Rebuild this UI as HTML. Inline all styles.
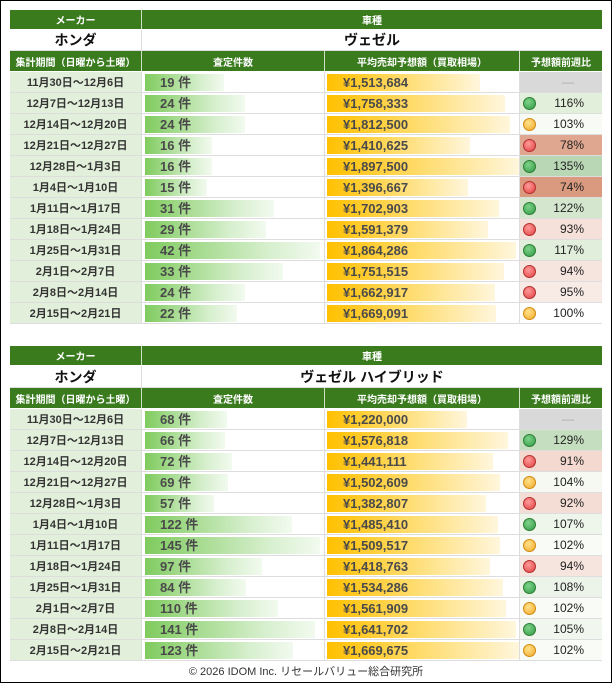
<!DOCTYPE html><html><head><meta charset="utf-8"><style>
*{margin:0;padding:0;box-sizing:border-box}
body{width:612px;height:683px;background:#fff;font-family:"Liberation Sans","Noto Sans CJK JP",sans-serif;position:relative;overflow:hidden}
.frame{position:absolute;left:0;top:0;width:612px;height:683px;border:1px solid #000}
.t{position:absolute;left:10px;width:592px}
.r{display:flex;height:21px;border-bottom:1px solid #ddd}
.r>div{height:100%;position:relative;display:flex;align-items:center;justify-content:center;font-size:11px;font-weight:bold;color:#333}
.c1{width:132px;background:#e2efda;border-right:1px solid #ddd}
.c2{width:183px;border-right:1px solid #ddd}
.c3{width:195px;border-right:1px solid #ddd}
.c4{width:82px}
.h{background:#3a7b1e;border-bottom:1px solid #fff}
.h>div{color:#fff;background:#3a7b1e;border-right:1px solid #cfe0c5;font-size:10px}
.n>div{background:#fff;font-size:14px;color:#111}
.n{height:21px}
.b1{position:absolute;left:3px;top:2px;height:17px;background:linear-gradient(90deg,#7fcb5e,#d6efcd 70%,#f2faef)}
.b2{position:absolute;left:2px;top:2px;height:17px;background:linear-gradient(90deg,#ffc000,#ffdf7a 55%,#fff6dc)}
.tx{position:absolute;left:18px;top:0;line-height:21px;font-size:13px;color:#4a4a4a;font-weight:bold}
.c4 .dot{position:absolute;left:3px;top:4px;width:13px;height:13px;border-radius:50%}
.g{background:radial-gradient(circle at 40% 35%,#7fd38a,#2f9a45);border:1px solid #2e7d32}
.o{background:radial-gradient(circle at 40% 35%,#ffe28a,#f3a82a);border:1px solid #d08a10}
.rd{background:radial-gradient(circle at 40% 35%,#ff9a9a,#e0403f);border:1px solid #b23030}
.c4 span{position:absolute;right:18px;font-weight:normal;font-size:12px;color:#222}
.foot{position:absolute;left:0;width:612px;top:663px;text-align:center;font-size:11px;color:#333}
</style></head><body><div class="frame"></div>

<div class="t" style="top:10px">
<div class="r h" style="height:20px"><div class="c1">メーカー</div><div class="c2" style="width:460px;border-right:none">車種</div></div>
<div class="r n"><div class="c1">ホンダ</div><div class="c2" style="width:460px;border-right:none">ヴェゼル</div></div>
<div class="r h"><div class="c1">集計期間（日曜から土曜）</div><div class="c2">査定件数</div><div class="c3">平均売却予想額（買取相場）</div><div class="c4" style="border-right:none">予想額前週比</div></div>
<div class="r"><div class="c1">11月30日～12月6日</div><div class="c2"><div class="b1" style="width:79px"></div><div class="tx">19 件</div></div><div class="c3"><div class="b2" style="width:153px"></div><div class="tx">¥1,513,684</div></div><div class="c4" style="background:#d9d9d9"><span style="color:#aaa;right:28px">—</span></div></div>
<div class="r"><div class="c1">12月7日～12月13日</div><div class="c2"><div class="b1" style="width:100px"></div><div class="tx">24 件</div></div><div class="c3"><div class="b2" style="width:178px"></div><div class="tx">¥1,758,333</div></div><div class="c4" style="background:#e2efda"><div class="dot g"></div><span>116%</span></div></div>
<div class="r"><div class="c1">12月14日～12月20日</div><div class="c2"><div class="b1" style="width:100px"></div><div class="tx">24 件</div></div><div class="c3"><div class="b2" style="width:183px"></div><div class="tx">¥1,812,500</div></div><div class="c4" style="background:#f7faf5"><div class="dot o"></div><span>103%</span></div></div>
<div class="r"><div class="c1">12月21日～12月27日</div><div class="c2"><div class="b1" style="width:67px"></div><div class="tx">16 件</div></div><div class="c3"><div class="b2" style="width:143px"></div><div class="tx">¥1,410,625</div></div><div class="c4" style="background:#dfa78f"><div class="dot rd"></div><span>78%</span></div></div>
<div class="r"><div class="c1">12月28日～1月3日</div><div class="c2"><div class="b1" style="width:67px"></div><div class="tx">16 件</div></div><div class="c3"><div class="b2" style="width:192px"></div><div class="tx">¥1,897,500</div></div><div class="c4" style="background:#b9d7b5"><div class="dot g"></div><span>135%</span></div></div>
<div class="r"><div class="c1">1月4日～1月10日</div><div class="c2"><div class="b1" style="width:62px"></div><div class="tx">15 件</div></div><div class="c3"><div class="b2" style="width:141px"></div><div class="tx">¥1,396,667</div></div><div class="c4" style="background:#d99a7f"><div class="dot rd"></div><span>74%</span></div></div>
<div class="r"><div class="c1">1月11日～1月17日</div><div class="c2"><div class="b1" style="width:129px"></div><div class="tx">31 件</div></div><div class="c3"><div class="b2" style="width:172px"></div><div class="tx">¥1,702,903</div></div><div class="c4" style="background:#d4e7ce"><div class="dot g"></div><span>122%</span></div></div>
<div class="r"><div class="c1">1月18日～1月24日</div><div class="c2"><div class="b1" style="width:121px"></div><div class="tx">29 件</div></div><div class="c3"><div class="b2" style="width:161px"></div><div class="tx">¥1,591,379</div></div><div class="c4" style="background:#f5e1d9"><div class="dot rd"></div><span>93%</span></div></div>
<div class="r"><div class="c1">1月25日～1月31日</div><div class="c2"><div class="b1" style="width:175px"></div><div class="tx">42 件</div></div><div class="c3"><div class="b2" style="width:189px"></div><div class="tx">¥1,864,286</div></div><div class="c4" style="background:#e1eedb"><div class="dot g"></div><span>117%</span></div></div>
<div class="r"><div class="c1">2月1日～2月7日</div><div class="c2"><div class="b1" style="width:138px"></div><div class="tx">33 件</div></div><div class="c3"><div class="b2" style="width:177px"></div><div class="tx">¥1,751,515</div></div><div class="c4" style="background:#f6e5de"><div class="dot rd"></div><span>94%</span></div></div>
<div class="r"><div class="c1">2月8日～2月14日</div><div class="c2"><div class="b1" style="width:100px"></div><div class="tx">24 件</div></div><div class="c3"><div class="b2" style="width:168px"></div><div class="tx">¥1,662,917</div></div><div class="c4" style="background:#f8ebe5"><div class="dot rd"></div><span>95%</span></div></div>
<div class="r"><div class="c1">2月15日～2月21日</div><div class="c2"><div class="b1" style="width:92px"></div><div class="tx">22 件</div></div><div class="c3"><div class="b2" style="width:169px"></div><div class="tx">¥1,669,091</div></div><div class="c4" style="background:#fff"><div class="dot o"></div><span>100%</span></div></div>
</div>

<div class="t" style="top:346px">
<div class="r h" style="height:20px"><div class="c1">メーカー</div><div class="c2" style="width:460px;border-right:none">車種</div></div>
<div class="r n" style="height:22px"><div class="c1">ホンダ</div><div class="c2" style="width:460px;border-right:none">ヴェゼル ハイブリッド</div></div>
<div class="r h"><div class="c1">集計期間（日曜から土曜）</div><div class="c2">査定件数</div><div class="c3">平均売却予想額（買取相場）</div><div class="c4" style="border-right:none">予想額前週比</div></div>
<div class="r"><div class="c1">11月30日～12月6日</div><div class="c2"><div class="b1" style="width:82px"></div><div class="tx">68 件</div></div><div class="c3"><div class="b2" style="width:140px"></div><div class="tx">¥1,220,000</div></div><div class="c4" style="background:#d9d9d9"><span style="color:#aaa;right:28px">—</span></div></div>
<div class="r"><div class="c1">12月7日～12月13日</div><div class="c2"><div class="b1" style="width:80px"></div><div class="tx">66 件</div></div><div class="c3"><div class="b2" style="width:181px"></div><div class="tx">¥1,576,818</div></div><div class="c4" style="background:#c5debf"><div class="dot g"></div><span>129%</span></div></div>
<div class="r"><div class="c1">12月14日～12月20日</div><div class="c2"><div class="b1" style="width:87px"></div><div class="tx">72 件</div></div><div class="c3"><div class="b2" style="width:166px"></div><div class="tx">¥1,441,111</div></div><div class="c4" style="background:#f3d9cf"><div class="dot rd"></div><span>91%</span></div></div>
<div class="r"><div class="c1">12月21日～12月27日</div><div class="c2"><div class="b1" style="width:83px"></div><div class="tx">69 件</div></div><div class="c3"><div class="b2" style="width:173px"></div><div class="tx">¥1,502,609</div></div><div class="c4" style="background:#f5f9f2"><div class="dot o"></div><span>104%</span></div></div>
<div class="r"><div class="c1">12月28日～1月3日</div><div class="c2"><div class="b1" style="width:69px"></div><div class="tx">57 件</div></div><div class="c3"><div class="b2" style="width:159px"></div><div class="tx">¥1,382,807</div></div><div class="c4" style="background:#f4ddd4"><div class="dot rd"></div><span>92%</span></div></div>
<div class="r"><div class="c1">1月4日～1月10日</div><div class="c2"><div class="b1" style="width:147px"></div><div class="tx">122 件</div></div><div class="c3"><div class="b2" style="width:171px"></div><div class="tx">¥1,485,410</div></div><div class="c4" style="background:#eef5eb"><div class="dot g"></div><span>107%</span></div></div>
<div class="r"><div class="c1">1月11日～1月17日</div><div class="c2"><div class="b1" style="width:175px"></div><div class="tx">145 件</div></div><div class="c3"><div class="b2" style="width:173px"></div><div class="tx">¥1,509,517</div></div><div class="c4" style="background:#f9fbf7"><div class="dot o"></div><span>102%</span></div></div>
<div class="r"><div class="c1">1月18日～1月24日</div><div class="c2"><div class="b1" style="width:117px"></div><div class="tx">97 件</div></div><div class="c3"><div class="b2" style="width:163px"></div><div class="tx">¥1,418,763</div></div><div class="c4" style="background:#f6e5de"><div class="dot rd"></div><span>94%</span></div></div>
<div class="r"><div class="c1">1月25日～1月31日</div><div class="c2"><div class="b1" style="width:101px"></div><div class="tx">84 件</div></div><div class="c3"><div class="b2" style="width:176px"></div><div class="tx">¥1,534,286</div></div><div class="c4" style="background:#ecf4e9"><div class="dot g"></div><span>108%</span></div></div>
<div class="r"><div class="c1">2月1日～2月7日</div><div class="c2"><div class="b1" style="width:133px"></div><div class="tx">110 件</div></div><div class="c3"><div class="b2" style="width:179px"></div><div class="tx">¥1,561,909</div></div><div class="c4" style="background:#f9fbf7"><div class="dot o"></div><span>102%</span></div></div>
<div class="r"><div class="c1">2月8日～2月14日</div><div class="c2"><div class="b1" style="width:170px"></div><div class="tx">141 件</div></div><div class="c3"><div class="b2" style="width:189px"></div><div class="tx">¥1,641,702</div></div><div class="c4" style="background:#f1f7ee"><div class="dot g"></div><span>105%</span></div></div>
<div class="r"><div class="c1">2月15日～2月21日</div><div class="c2"><div class="b1" style="width:148px"></div><div class="tx">123 件</div></div><div class="c3"><div class="b2" style="width:192px"></div><div class="tx">¥1,669,675</div></div><div class="c4" style="background:#f9fbf7"><div class="dot o"></div><span>102%</span></div></div>
</div>
<div class="foot">© 2026 IDOM Inc. リセールバリュー総合研究所</div>
</body></html>
